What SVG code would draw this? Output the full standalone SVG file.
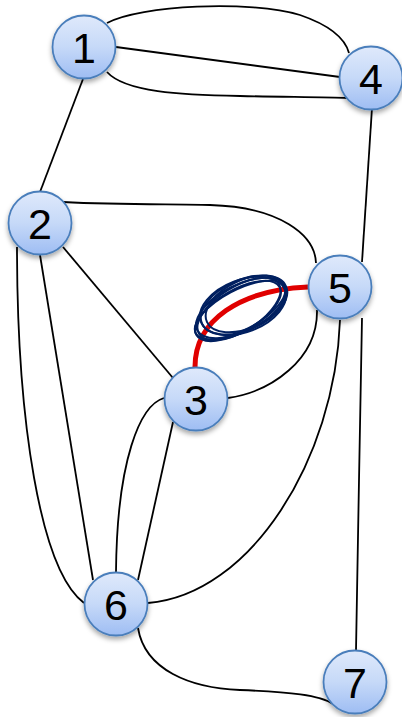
<svg xmlns="http://www.w3.org/2000/svg" width="402" height="717" viewBox="0 0 402 717">
<defs>
<linearGradient id="g" x1="0" y1="0" x2="0" y2="1">
<stop offset="0" stop-color="#dfe9fb"/>
<stop offset="0.5" stop-color="#c6d9f8"/>
<stop offset="1" stop-color="#9ebdf3"/>
</linearGradient>
<filter id="sh" x="-30%" y="-30%" width="160%" height="170%">
<feDropShadow dx="0" dy="3" stdDeviation="2.5" flood-color="#000" flood-opacity="0.35"/>
</filter>
<style>
.e{fill:none;stroke:#000;stroke-width:1.8}
.n circle{fill:url(#g);stroke:#4a7ebb;stroke-width:1.8;filter:url(#sh)}
.n text{font-family:"Liberation Sans",Arial,sans-serif;font-size:43px;fill:#000;text-anchor:middle}
.s{fill:none;stroke:#002060;stroke-width:2}
</style>
</defs>
<g id="connectors">
<path class="e" d="M107,23 C140,5 250,0 300,15 C335,27 346,42 349,53"/>
<path class="e" d="M116,47 L340,77"/>
<path class="e" d="M107,72 C125,92 180,95 240,96 C290,97 330,97 347,98"/>
<path class="e" d="M83,79 L40,192"/>
<path class="e" d="M372,108 L362,262"/>
<path class="e" d="M362,318 L359,480 L356,651"/>
<path class="e" d="M63,202 C120,205 170,204 210,205 C280,207 315,235 316,263"/>
<path class="e" d="M63,247 L173,378"/>
<path class="e" d="M228,398 C270,392 318,360 317,310"/>
<path class="e" d="M17,247 C17,420 40,570 84,603"/>
<path class="e" d="M40,255 L93,580"/>
<path class="e" d="M164,398 C140,405 117,460 116,572"/>
<path class="e" d="M173,422 L138,580"/>
<path class="e" d="M340,320 C335,460 250,595 148,603"/>
<path class="e" d="M138,628 C145,670 190,688 240,690 C290,692 320,695 333,704"/>
<path d="M195,367 C195,320 240,290 308,287" fill="none" stroke="#e00000" stroke-width="5"/>
</g>
<g id="scribble">
<ellipse class="s" cx="241" cy="308" rx="49" ry="23" transform="rotate(-27 241 308)"/>
<ellipse class="s" cx="244" cy="305" rx="46" ry="25" transform="rotate(-24 244 305)"/>
<ellipse class="s" cx="238" cy="311" rx="48" ry="21" transform="rotate(-30 238 311)"/>
<ellipse class="s" cx="243" cy="306" rx="45" ry="26" transform="rotate(-21 243 306)"/>
<ellipse class="s" cx="240" cy="310" rx="50" ry="20" transform="rotate(-28 240 310)"/>
<ellipse class="s" cx="246" cy="304" rx="43" ry="24" transform="rotate(-25 246 304)"/>
<ellipse class="s" cx="239" cy="309" rx="47" ry="22" transform="rotate(-32 239 309)"/>
</g>
<g id="node1" class="n"><circle cx="84" cy="47" r="31.5"/><text x="84" y="63">1</text></g>
<g id="node4" class="n"><circle cx="371" cy="78" r="31.5"/><text x="371" y="94">4</text></g>
<g id="node2" class="n"><circle cx="40" cy="223" r="31.5"/><text x="40" y="239">2</text></g>
<g id="node5" class="n"><circle cx="340" cy="287" r="31.5"/><text x="340" y="303">5</text></g>
<g id="node3" class="n"><circle cx="196" cy="399" r="31.5"/><text x="196" y="415">3</text></g>
<g id="node6" class="n"><circle cx="116" cy="604" r="31.5"/><text x="116" y="620">6</text></g>
<g id="node7" class="n"><circle cx="355" cy="682" r="31.5"/><text x="355" y="698">7</text></g>
</svg>
